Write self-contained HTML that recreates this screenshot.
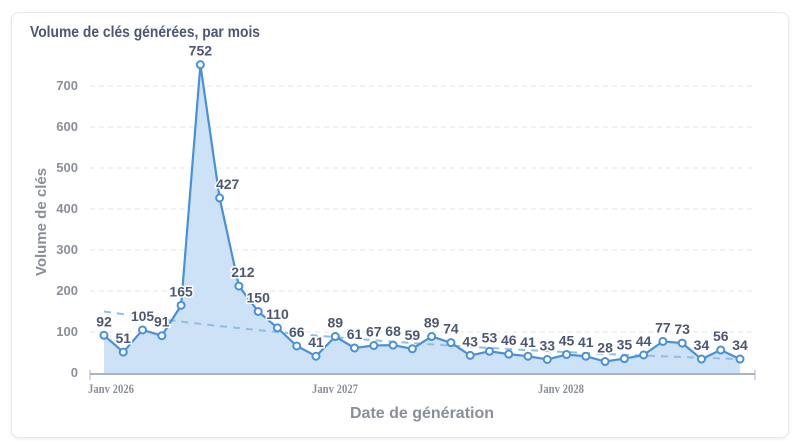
<!DOCTYPE html>
<html><head><meta charset="utf-8"><style>
body{margin:0;background:#fff;width:800px;height:447px;overflow:hidden;font-family:"Liberation Sans",sans-serif}
.card{position:absolute;left:11px;top:12px;width:776px;height:424px;border:1px solid #e6e8eb;border-radius:8px;box-shadow:0 1px 3px rgba(0,0,0,.08)}
</style></head><body>
<div class="card"></div>
<svg width="800" height="447" style="position:absolute;left:0;top:0" font-family="Liberation Sans, sans-serif">
<text x="30" y="37" font-size="16" fill="#4c5773" font-weight="bold" textLength="230" lengthAdjust="spacingAndGlyphs">Volume de clés générées, par mois</text>
<g stroke="#e3e5e8" stroke-dasharray="5,4" stroke-width="1">
<line x1="90" x2="755" y1="86" y2="86"/><line x1="90" x2="755" y1="127" y2="127"/><line x1="90" x2="755" y1="168" y2="168"/><line x1="90" x2="755" y1="209" y2="209"/><line x1="90" x2="755" y1="250" y2="250"/><line x1="90" x2="755" y1="291" y2="291"/><line x1="90" x2="755" y1="332" y2="332"/>
</g>
<g font-size="13" fill="#8a8f99" font-weight="bold" text-anchor="end">
<text x="78" y="90">700</text><text x="78" y="131">600</text><text x="78" y="172">500</text><text x="78" y="213">400</text><text x="78" y="254">300</text><text x="78" y="295">200</text><text x="78" y="336">100</text><text x="78" y="377">0</text>
</g>
<text transform="translate(46,222) rotate(-90)" font-size="15" font-weight="bold" fill="#8a8f99" text-anchor="middle">Volume de clés</text>
<text x="422" y="418" font-size="16" font-weight="bold" fill="#8a8f99" text-anchor="middle">Date de génération</text>
<g font-family="Liberation Serif, serif" font-size="13" font-weight="bold" fill="#8a8f99" text-anchor="middle">
<text x="111" y="393" textLength="46" lengthAdjust="spacingAndGlyphs">Janv 2026</text><text x="335" y="393" textLength="46" lengthAdjust="spacingAndGlyphs">Janv 2027</text><text x="561" y="393" textLength="46" lengthAdjust="spacingAndGlyphs">Janv 2028</text>
</g>
<line x1="90" x2="755" y1="374" y2="374" stroke="#aab3c0" stroke-width="2"/>
<line x1="90" x2="90" y1="370" y2="380" stroke="#aab3c0"/><line x1="755" x2="755" y1="370" y2="380" stroke="#aab3c0"/>
<g id="g"></g>
</svg>
<script>
var d=[92,51,105,91,165,752,427,212,150,110,66,41,89,61,67,68,59,89,74,43,53,46,41,33,45,41,28,35,44,77,73,34,56,34];
var X=i=>104+i*636/33,Y=v=>373-v*0.41;
var s='';var p=d.map((v,i)=>X(i).toFixed(1)+','+Y(v).toFixed(1));
s+='<polygon points="'+X(0)+',373 '+p.join(' ')+' '+X(33)+',373" fill="#cde2f6"/>';
var t=[];for(var i=0;i<=33;i++){var v=150*Math.exp(-i*0.045);t.push(X(i).toFixed(1)+','+Y(v).toFixed(1));}
s+='<polyline points="'+t.join(' ')+'" fill="none" stroke="#8fbde8" stroke-width="2" stroke-dasharray="7,6"/>';
s+='<polyline points="'+p.join(' ')+'" fill="none" stroke="#4a90d9" stroke-width="2.2"/>';
d.forEach((v,i)=>{s+='<circle cx="'+X(i)+'" cy="'+Y(v)+'" r="3.5" fill="#fff" stroke="#4a90d9" stroke-width="2"/>';
var ox=0;if(i==6)ox=8;if(i==7)ox=4;
s+='<text x="'+(X(i)+ox)+'" y="'+(Y(v)-9)+'" font-size="14" font-weight="bold" fill="#4c5773" text-anchor="middle" stroke="#fff" stroke-width="3" paint-order="stroke">'+v+'</text>';});
document.getElementById('g').innerHTML=s;
</script>
</body></html>
